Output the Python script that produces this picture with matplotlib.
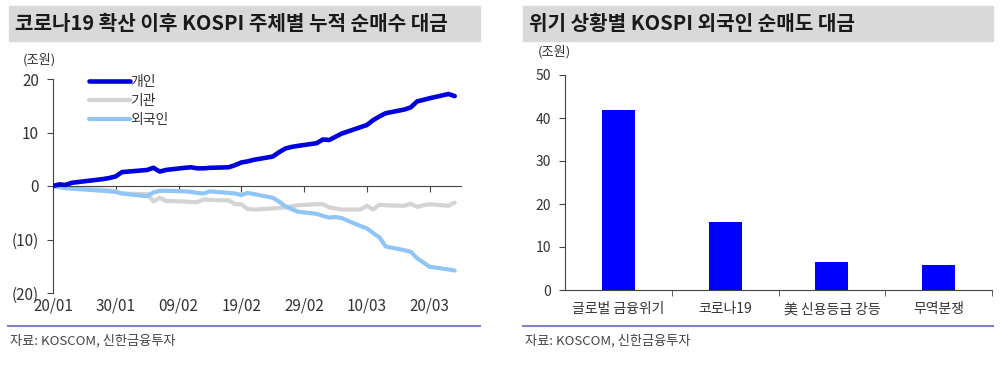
import pandas as pd
import matplotlib.pyplot as plt
from matplotlib.ticker import FixedLocator

plt.rcParams['font.family'] = ['Noto Sans CJK KR', 'DejaVu Sans']

# 누적 순매수 (조원), 거래일 기준
dates = ['2020-01-20', '2020-01-21', '2020-01-22', '2020-01-23', '2020-01-28',
         '2020-01-29', '2020-01-30', '2020-01-31', '2020-02-03', '2020-02-04',
         '2020-02-05', '2020-02-06', '2020-02-07', '2020-02-10', '2020-02-11',
         '2020-02-12', '2020-02-13', '2020-02-14', '2020-02-17', '2020-02-18',
         '2020-02-19', '2020-02-20', '2020-02-21', '2020-02-24', '2020-02-25',
         '2020-02-26', '2020-02-27', '2020-02-28', '2020-03-02', '2020-03-03',
         '2020-03-04', '2020-03-05', '2020-03-06', '2020-03-09', '2020-03-10',
         '2020-03-11', '2020-03-12', '2020-03-13', '2020-03-16', '2020-03-17',
         '2020-03-18', '2020-03-19', '2020-03-20', '2020-03-23', '2020-03-24']
individual = [0.0, 0.3, 0.2, 0.6, 1.3, 1.5, 1.8, 2.6, 2.9, 3.0,
              3.4, 2.7, 3.0, 3.4, 3.5, 3.3, 3.3, 3.4, 3.5, 3.9,
              4.4, 4.6, 4.9, 5.5, 6.3, 7.0, 7.3, 7.5, 8.0, 8.7,
              8.6, 9.2, 9.8, 11.0, 11.4, 12.3, 13.0, 13.6, 14.3, 14.7,
              15.8, 16.1, 16.4, 17.2, 16.8]
institution = [0.0, -0.2, -0.3, -0.4, -0.7, -0.8, -1.0, -1.4, -1.5, -1.5,
               -2.9, -2.2, -2.8, -2.9, -3.0, -3.0, -2.5, -2.6, -2.7, -3.4,
               -3.4, -4.3, -4.4, -4.2, -4.1, -4.0, -3.8, -3.6, -3.4, -3.4,
               -4.0, -4.2, -4.4, -4.4, -3.7, -4.4, -3.5, -3.6, -3.7, -3.3,
               -3.9, -3.6, -3.4, -3.7, -3.1]
foreign = [0.0, -0.2, -0.4, -0.5, -0.9, -1.0, -1.1, -1.4, -1.8, -1.9,
           -1.2, -0.9, -0.9, -1.0, -1.1, -1.3, -1.4, -1.0, -1.3, -1.4,
           -1.7, -1.3, -1.5, -2.2, -2.9, -3.8, -4.3, -4.8, -5.2, -5.6,
           -5.9, -5.8, -6.0, -7.5, -7.9, -8.8, -9.6, -11.3, -12.0, -12.3,
           -13.5, -14.3, -15.1, -15.6, -15.8]
xtick_dates = ['2020-01-20', '2020-01-30', '2020-02-09', '2020-02-19',
               '2020-02-29', '2020-03-10', '2020-03-20']
xtick_labels = ['20/01', '30/01', '09/02', '19/02', '29/02', '10/03', '20/03']

# 위기 상황별 외국인 순매도 (조원)
crises = ['글로벌 금융위기', '코로나19', '美 신용등급 강등', '무역분쟁']
net_sell = [41.8, 15.7, 6.5, 5.8]

txt = '#333333'
start = pd.Timestamp('2020-01-20')
days = [(pd.Timestamp(d) - start).days for d in dates]
tick_days = [(pd.Timestamp(d) - start).days for d in xtick_dates]

fig = plt.figure(figsize=(10, 3.67), dpi=100)

# title bands
for x0, x1, title in [(0.009, 0.480, '코로나19 확산 이후 KOSPI 주체별 누적 순매수 대금'),
                      (0.523, 0.993, '위기 상황별 KOSPI 외국인 순매도 대금')]:
    fig.patches.append(plt.Rectangle((x0, 1 - 41 / 367), x1 - x0, 35 / 367,
                                     transform=fig.transFigure, color='#d9d9d9', zorder=0))
    fig.text(x0 + 0.006, 1 - 24 / 367, title, fontsize=14.5, fontweight='bold',
             color='#1a1a1a', va='center', ha='left')

# left chart
ax = fig.add_axes([0.053, 1 - 293 / 367, 0.408, 214 / 367])
ax.plot(days, individual, color='#0000dd', lw=3.3, solid_capstyle='round', label='개인', zorder=3)
ax.plot(days, institution, color='#d4d4d4', lw=3.0, solid_capstyle='round', label='기관', zorder=2)
ax.plot(days, foreign, color='#8fc6f7', lw=3.0, solid_capstyle='round', label='외국인', zorder=2)
ax.set_xlim(0, 65)
ax.set_ylim(-20, 20)
ax.set_yticks([20, 10, 0, -10, -20])
ax.set_yticklabels(['20', '10', '0', '(10)', '(20)'])
for s in ['top', 'right']:
    ax.spines[s].set_visible(False)
ax.spines['bottom'].set_position(('data', 0))
ax.spines['bottom'].set_color('#444444')
ax.spines['left'].set_color('#444444')
ax.set_xticks(tick_days)
ax.tick_params(axis='x', labelbottom=False, length=4, direction='out', color='#444444')
ax.tick_params(axis='y', length=4, direction='out', color='#444444', labelsize=11,
               labelcolor=txt, pad=6)
sec = ax.secondary_xaxis('bottom')
sec.set_xticks(tick_days)
sec.set_xticklabels(xtick_labels)
sec.tick_params(length=0, labelsize=11, labelcolor=txt, pad=3)
sec.spines['bottom'].set_visible(False)
ax.legend(loc='upper left', bbox_to_anchor=(0.065, 1.065), frameon=False, fontsize=10,
          handlelength=2.9, handletextpad=0.05, labelspacing=0.35, borderpad=0.2,
          labelcolor=txt)
fig.text(0.023, 1 - 60 / 367, '(조원)', fontsize=9.5, color=txt, va='center')

# right chart
bx = fig.add_axes([0.565, 1 - 290 / 367, 0.427, 215 / 367])
pos = list(range(len(crises)))
bx.bar(pos, net_sell, width=0.31, color='#0000ff', zorder=2)
bx.set_xlim(-0.5, len(crises) - 0.5)
bx.set_ylim(0, 50)
bx.set_yticks([0, 10, 20, 30, 40, 50])
for s in ['top', 'right']:
    bx.spines[s].set_visible(False)
bx.spines['bottom'].set_color('#444444')
bx.spines['left'].set_color('#444444')
bx.set_xticks(pos)
bx.set_xticklabels(crises)
bx.xaxis.set_minor_locator(FixedLocator([p + 0.5 for p in pos]))
bx.tick_params(axis='x', which='major', length=0, labelsize=10, labelcolor=txt, pad=9)
bx.tick_params(axis='x', which='minor', length=4, direction='out', color='#444444')
bx.tick_params(axis='y', length=4, direction='out', color='#444444', labelsize=10,
               labelcolor=txt, pad=6)
fig.text(0.538, 1 - 52 / 367, '(조원)', fontsize=9.5, color=txt, va='center')

# footer
for x0, x1 in [(0.008, 0.480), (0.523, 0.993)]:
    fig.lines.append(plt.Line2D([x0, x1], [1 - 326 / 367] * 2, transform=fig.transFigure,
                                color='#8080c8', lw=1.5))
    fig.text(x0 + 0.002, 1 - 341 / 367, '자료: KOSCOM, 신한금융투자', fontsize=9.5,
             color='#444444', va='center')

fig.savefig('out.png', dpi=100)
